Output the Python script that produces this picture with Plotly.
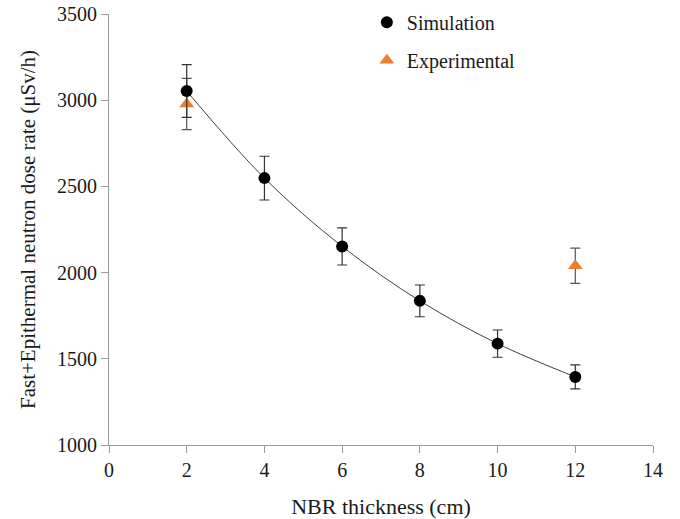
import plotly.graph_objects as go

thickness = [2, 4, 6, 8, 10, 12]
sim_dose = [3053, 2548, 2152, 1836, 1588, 1395]
sim_err = [153, 127, 108, 92, 79, 70]

exp_thickness = [2, 12]
exp_dose = [2978, 2040]
exp_err = [149, 102]

FONT = "'Liberation Serif', 'Times New Roman', Times, serif"

fig = go.Figure()

# trend curve through simulation points
fig.add_trace(go.Scatter(
    x=thickness, y=sim_dose, mode="lines",
    line=dict(color="#404040", width=1, shape="spline", smoothing=1.0),
    showlegend=False, hoverinfo="skip"))

fig.add_trace(go.Scatter(
    x=exp_thickness, y=exp_dose, mode="markers", name="Experimental",
    marker=dict(symbol="triangle-up", size=13, color="#ED7D31"),
    error_y=dict(type="data", array=exp_err, visible=True, color="#555555",
                 thickness=1.2, width=5),
    legendgroup="b", legendrank=2))

fig.add_trace(go.Scatter(
    x=thickness, y=sim_dose, mode="markers", name="Simulation",
    marker=dict(symbol="circle", size=12, color="#000000"),
    error_y=dict(type="data", array=sim_err, visible=True, color="#333333",
                 thickness=1.2, width=5),
    legendgroup="a", legendrank=1))

fig.update_layout(
    width=680, height=519,
    margin=dict(l=109, r=27, t=14, b=74, autoexpand=False),
    paper_bgcolor="white", plot_bgcolor="white",
    font=dict(family=FONT, size=20, color="#1a1a1a"),
    showlegend=True,
    legend=dict(x=0.474, y=1.026, xanchor="left", yanchor="top",
                bgcolor="rgba(0,0,0,0)", traceorder="grouped",
                tracegroupgap=9, font=dict(family=FONT, size=20, color="#1a1a1a")),
    xaxis=dict(range=[0, 14], tickvals=[0, 2, 4, 6, 8, 10, 12, 14],
               showgrid=False, zeroline=False, showline=True, automargin=False,
               linecolor="#9a9a9a", linewidth=1,
               ticks="outside", ticklen=7, tickcolor="#9a9a9a",
               tickfont=dict(family=FONT, size=20),
               title=dict(text="NBR thickness (cm)", standoff=19,
                          font=dict(family=FONT, size=22))),
    yaxis=dict(range=[1000, 3500], tickvals=[1000, 1500, 2000, 2500, 3000, 3500],
               showgrid=False, zeroline=False, showline=True, automargin=False,
               linecolor="#9a9a9a", linewidth=1,
               ticks="outside", ticklen=7, tickcolor="#9a9a9a",
               tickfont=dict(family=FONT, size=20),
               ticklabeloverflow="allow",
               title=dict(text="Fast+Epithermal neutron dose rate (μSv/h)", standoff=15,
                          font=dict(family=FONT, size=21))),
)

fig.write_html("out.html", config={"displayModeBar": False},
               post_script="document.body.style.margin='0';")
